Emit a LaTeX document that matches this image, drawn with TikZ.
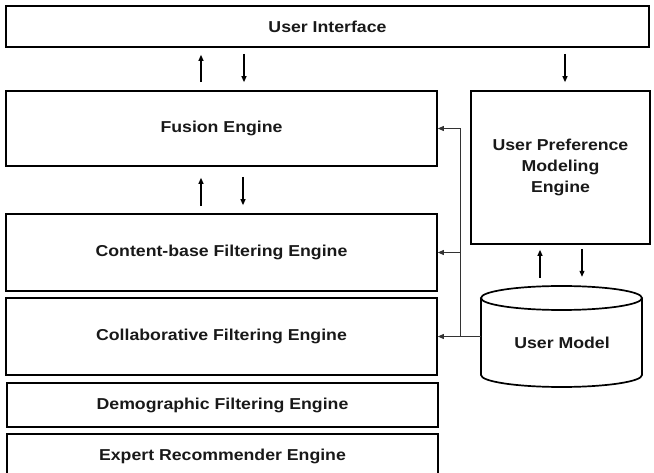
\documentclass[tikz,border=0pt]{standalone}
\usepackage{fontspec}
\setmainfont{Liberation Sans}[FakeStretch=1.12]
\usetikzlibrary{arrows.meta,calc}
\begin{document}
\begin{tikzpicture}[x=1pt,y=-1pt,
  box/.style={draw, line width=1.7pt, inner sep=0pt, align=center,
    font=\bfseries\fontsize{15.8}{21}\selectfont, text=black!90},
  arr/.style={-{Triangle[length=6pt,width=5pt]}, line width=1.1pt},
  farr/.style={-{Triangle[length=6pt,width=5pt]}, line width=1pt, black!80},
  cyl/.style={line width=1.7pt},
  txt/.style={font=\bfseries\fontsize{15.8}{21}\selectfont, text=black!90}
]
\clip (0,0) rectangle (654,473);
\node[box, minimum width=643, minimum height=41] (ui) at (327.5,26.5) {User Interface};
\node[box, minimum width=431, minimum height=75] (fusion) at (221.5,128.5) {Fusion Engine};
\node[box, minimum width=431, minimum height=77] (content) at (221.5,252.5) {Content-base Filtering Engine};
\node[box, minimum width=431, minimum height=77] (collab) at (221.5,336.5) {Collaborative Filtering Engine};
\node[box, minimum width=431, minimum height=44] (demo) at (222.5,405) {Demographic Filtering Engine};
\node[box, minimum width=431, minimum height=44] (expert) at (222.5,456) {Expert Recommender Engine};
\node[box, minimum width=179, minimum height=153] (upm) at (560.5,167.5) {User Preference\\Modeling\\Engine};
% user model cylinder
\node[minimum width=161, minimum height=101, inner sep=0pt] (um) at (561.5,336.5) {};
\draw[cyl] (481,298) -- (481,375) arc[start angle=180, end angle=0, x radius=80.5, y radius=12] -- (642,298);
\draw[cyl] (561.5,298) ellipse[x radius=80.5, y radius=12];
\node[txt] (umtext) at (562,343) {User Model};
% vertical arrows
\draw[arr, shorten <=8pt, shorten >=7pt] (201,0 |- fusion.north) -- (201,0 |- ui.south);
\draw[arr, shorten <=6pt, shorten >=8pt] (244,0 |- ui.south) -- (244,0 |- fusion.north);
\draw[arr, shorten <=6pt, shorten >=8pt] (565,0 |- ui.south) -- (565,0 |- upm.north);
\draw[arr, shorten <=7pt, shorten >=11pt] (201,0 |- content.north) -- (201,0 |- fusion.south);
\draw[arr, shorten <=10pt, shorten >=8pt] (243,0 |- fusion.south) -- (243,0 |- content.north);
\draw[arr, shorten <=8pt, shorten >=5pt] (540,0 |- um.north) -- (540,0 |- upm.south);
\draw[arr, shorten <=4pt, shorten >=9pt] (582,0 |- upm.south) -- (582,0 |- um.north);
% feedback lines
\coordinate (j) at (460,0);
\draw[farr] (um.west) -- (collab.east);
\draw[farr] (j |- um.west) |- (fusion.east);
\draw[farr] (j |- content.east) -- (content.east);
\end{tikzpicture}
\end{document}
